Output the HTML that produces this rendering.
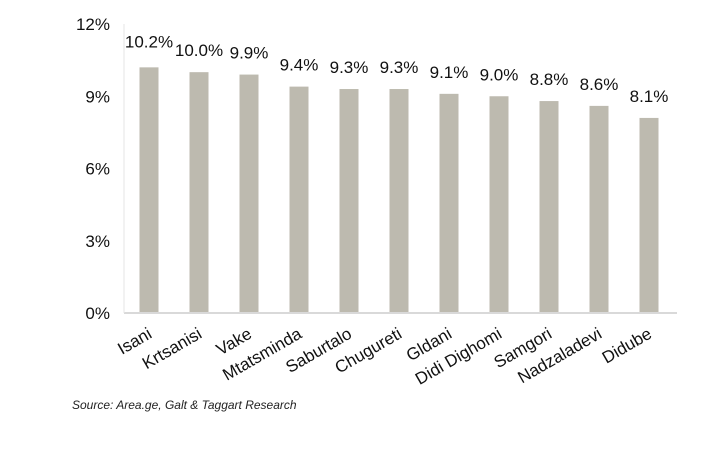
<!DOCTYPE html>
<html><head><meta charset="utf-8"><style>
body{margin:0;background:#fff;}
svg{display:block;font-family:"Liberation Sans",Arial,sans-serif;}
</style></head><body>
<svg width="720" height="460" viewBox="0 0 720 460">
<g id="yaxis"></g>
<g id="bars"></g>
<g id="xlabels"></g>
<line x1="124" y1="313" x2="677" y2="313" stroke="#d9d9d9" stroke-width="2"/>
<line x1="124" y1="24" x2="124" y2="313" stroke="#e6e6e6" stroke-width="1"/>
<text x="72" y="409" font-size="12" font-style="italic" fill="#222">Source: Area.ge, Galt &amp; Taggart Research</text>
</svg>
<script>
const categories=["Isani","Krtsanisi","Vake","Mtatsminda","Saburtalo","Chugureti","Gldani","Didi Dighomi","Samgori","Nadzaladevi","Didube"];
const values=[10.2,10.0,9.9,9.4,9.3,9.3,9.1,9.0,8.8,8.6,8.1];
const valueLabels=["10.2%","10.0%","9.9%","9.4%","9.3%","9.3%","9.1%","9.0%","8.8%","8.6%","8.1%"];
const ticks=[0,3,6,9,12];
const tickLabels=["0%","3%","6%","9%","12%"];
const NS="http://www.w3.org/2000/svg";
const x0=124,x1=674,yb=313,yt=24,ymax=12;
const y=v=>yb-(v/ymax)*(yb-yt);
const step=(x1-x0)/categories.length;
const xc=i=>x0+step*(i+0.5);
const ya=document.getElementById('yaxis'),bg=document.getElementById('bars'),xl=document.getElementById('xlabels');
ticks.forEach((t,i)=>{const e=document.createElementNS(NS,'text');


e.setAttribute('x',110);e.setAttribute('y',y(t)+6);e.setAttribute('text-anchor','end');e.setAttribute('font-size','17');e.setAttribute('fill','#111');e.textContent=tickLabels[i];ya.appendChild(e);});
categories.forEach((c,i)=>{
const r=document.createElementNS(NS,'rect');


r.setAttribute('x',xc(i)-9.5);r.setAttribute('width',19);r.setAttribute('y',y(values[i]));r.setAttribute('height',yb-y(values[i]));r.setAttribute('fill','#bdbaaf');bg.appendChild(r);
const t=document.createElementNS(NS,'text');


t.setAttribute('x',xc(i));t.setAttribute('y',y(values[i])-16-(i===0?4:0));t.setAttribute('text-anchor','middle');t.setAttribute('font-size','17');t.setAttribute('fill','#111');t.textContent=valueLabels[i];bg.appendChild(t);
const l=document.createElementNS(NS,'text');


const lx=xc(i)+4,ly=337;
l.setAttribute('x',lx);l.setAttribute('y',ly);l.setAttribute('text-anchor','end');l.setAttribute('font-size','17');l.setAttribute('fill','#111');l.setAttribute('transform','rotate(-30 '+lx+' '+ly+')');l.textContent=c;xl.appendChild(l);
});
</script>
</body></html>
